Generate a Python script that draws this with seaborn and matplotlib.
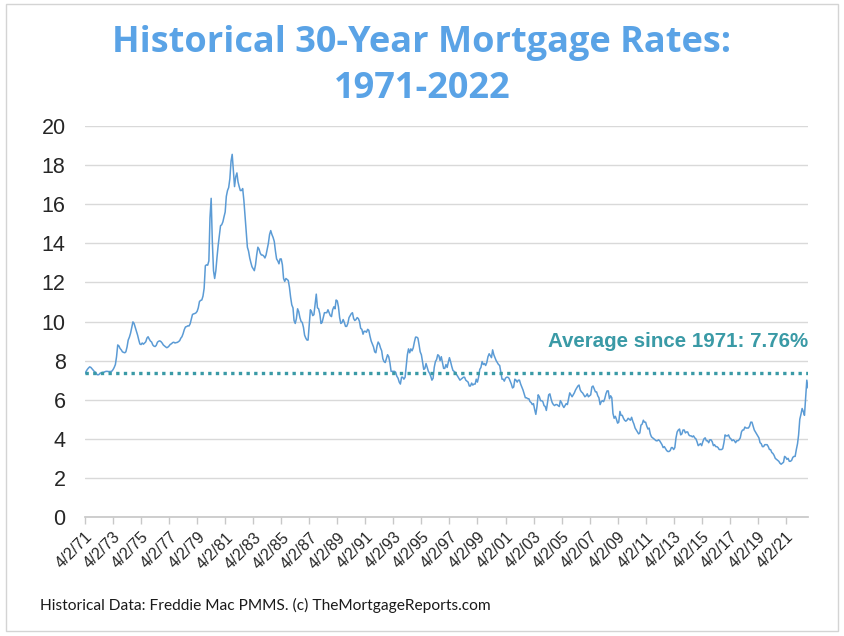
import matplotlib
matplotlib.use("Agg")
import matplotlib.pyplot as plt
from matplotlib.patches import Rectangle
import pandas as pd
import seaborn as sns

# monthly 30-year fixed rates (%), Apr 1971 - Nov 2022
rates = [
    7.33, 7.45, 7.55, 7.62, 7.68, 7.65, 7.58, 7.50, 7.44,                # 1971
    7.40, 7.30, 7.27, 7.29, 7.36, 7.37, 7.40, 7.40, 7.43, 7.45, 7.45, 7.44,  # 1972
    7.44, 7.44, 7.46, 7.54, 7.65, 7.80, 8.20, 8.80, 8.75, 8.62, 8.55, 8.45,  # 1973
    8.42, 8.40, 8.45, 8.70, 9.05, 9.20, 9.40, 9.70, 9.98, 9.90, 9.70, 9.50,  # 1974
    9.30, 9.05, 8.85, 8.82, 8.90, 8.84, 8.90, 8.96, 9.15, 9.22, 9.10, 9.00,  # 1975
    8.95, 8.80, 8.74, 8.72, 8.78, 8.94, 8.99, 9.01, 8.97, 8.90, 8.80, 8.75,  # 1976
    8.70, 8.66, 8.69, 8.75, 8.83, 8.86, 8.92, 8.94, 8.90, 8.92, 8.93, 8.97,  # 1977
    9.02, 9.15, 9.22, 9.38, 9.58, 9.72, 9.74, 9.78, 9.77, 9.88, 10.12, 10.36,  # 1978
    10.39, 10.41, 10.44, 10.52, 10.70, 11.02, 11.08, 11.10, 11.30, 11.70, 12.85, 12.90,  # 1979
    12.88, 13.10, 15.30, 16.30, 14.10, 12.60, 12.20, 12.60, 13.30, 13.90, 14.40, 14.90,  # 1980
    14.95, 15.10, 15.35, 15.60, 16.40, 16.70, 16.85, 17.30, 18.20, 18.55, 17.70, 16.90,  # 1981
    17.40, 17.60, 17.15, 16.90, 16.70, 16.70, 16.80, 16.20, 15.40, 14.60, 13.80, 13.60,  # 1982
    13.25, 13.00, 12.80, 12.70, 12.60, 12.90, 13.40, 13.80, 13.70, 13.50, 13.40, 13.40,  # 1983
    13.35, 13.25, 13.40, 13.70, 14.00, 14.45, 14.65, 14.45, 14.30, 14.10, 13.60, 13.20,  # 1984
    13.10, 12.95, 13.20, 13.20, 12.90, 12.20, 12.05, 12.20, 12.15, 12.10, 11.75, 11.25,  # 1985
    10.85, 10.70, 10.05, 9.90, 10.15, 10.65, 10.50, 10.20, 10.00, 9.95, 9.70, 9.30,  # 1986
    9.15, 9.05, 9.05, 9.85, 10.60, 10.50, 10.30, 10.35, 10.90, 11.40, 10.70, 10.65,  # 1987
    10.40, 9.90, 9.95, 10.20, 10.45, 10.45, 10.45, 10.60, 10.45, 10.30, 10.25, 10.60,  # 1988
    10.75, 10.65, 11.10, 11.05, 10.75, 10.20, 9.90, 9.95, 10.10, 9.95, 9.75, 9.75,  # 1989
    9.90, 10.20, 10.30, 10.40, 10.45, 10.15, 10.05, 10.10, 10.20, 10.15, 10.00, 9.65,  # 1990
    9.60, 9.35, 9.50, 9.50, 9.45, 9.60, 9.55, 9.25, 9.00, 8.85, 8.70, 8.45,  # 1991
    8.40, 8.75, 8.95, 8.85, 8.65, 8.50, 8.10, 7.95, 7.90, 8.10, 8.30, 8.20,  # 1992
    7.90, 7.45, 7.45, 7.45, 7.45, 7.40, 7.20, 7.10, 6.90, 6.80, 7.15, 7.15,  # 1993
    7.05, 7.15, 7.70, 8.30, 8.60, 8.40, 8.60, 8.50, 8.65, 8.95, 9.20, 9.20,  # 1994
    9.15, 8.80, 8.45, 8.30, 7.95, 7.55, 7.60, 7.85, 7.65, 7.45, 7.35, 7.20,  # 1995
    7.00, 7.10, 7.65, 7.95, 8.05, 8.30, 8.25, 8.00, 8.20, 7.90, 7.60, 7.60,  # 1996
    7.80, 7.65, 7.90, 8.15, 7.95, 7.70, 7.50, 7.45, 7.40, 7.30, 7.20, 7.10,  # 1997
    7.00, 7.05, 7.10, 7.15, 7.15, 7.00, 6.95, 6.90, 6.70, 6.70, 6.85, 6.75,  # 1998
    6.80, 6.80, 7.05, 6.90, 7.15, 7.55, 7.65, 7.95, 7.80, 7.85, 7.75, 7.90,  # 1999
    8.20, 8.35, 8.25, 8.15, 8.55, 8.30, 8.15, 8.00, 7.90, 7.80, 7.75, 7.40,  # 2000
    7.05, 7.05, 6.95, 7.10, 7.15, 7.15, 7.10, 6.95, 6.80, 6.60, 6.65, 7.05,  # 2001
    7.00, 6.90, 7.00, 7.00, 6.80, 6.65, 6.50, 6.30, 6.10, 6.10, 6.05, 6.05,  # 2002
    5.90, 5.85, 5.75, 5.80, 5.50, 5.25, 5.65, 6.25, 6.15, 5.95, 5.95, 5.90,  # 2003
    5.70, 5.65, 5.45, 5.85, 6.25, 6.30, 6.05, 5.85, 5.75, 5.70, 5.75, 5.75,  # 2004
    5.70, 5.65, 5.95, 5.85, 5.70, 5.60, 5.70, 5.80, 5.75, 6.05, 6.35, 6.25,  # 2005
    6.15, 6.25, 6.35, 6.50, 6.60, 6.70, 6.75, 6.50, 6.40, 6.35, 6.25, 6.15,  # 2006
    6.20, 6.30, 6.15, 6.20, 6.25, 6.65, 6.70, 6.55, 6.40, 6.40, 6.20, 6.10,  # 2007
    5.75, 5.90, 5.95, 5.90, 6.05, 6.30, 6.45, 6.45, 6.05, 6.20, 6.10, 5.30,  # 2008
    5.05, 5.15, 5.00, 4.80, 4.85, 5.40, 5.20, 5.20, 5.05, 4.95, 4.90, 4.95,  # 2009
    5.05, 5.00, 4.95, 5.10, 4.90, 4.75, 4.55, 4.45, 4.35, 4.25, 4.30, 4.70,  # 2010
    4.75, 4.95, 4.85, 4.85, 4.65, 4.50, 4.55, 4.25, 4.10, 4.05, 4.00, 3.95,  # 2011
    3.90, 3.90, 3.95, 3.90, 3.80, 3.70, 3.55, 3.60, 3.50, 3.40, 3.35, 3.35,  # 2012
    3.40, 3.55, 3.55, 3.45, 3.55, 4.05, 4.35, 4.45, 4.50, 4.20, 4.25, 4.45,  # 2013
    4.45, 4.30, 4.35, 4.35, 4.20, 4.15, 4.15, 4.10, 4.15, 4.05, 4.00, 3.85,  # 2014
    3.65, 3.70, 3.75, 3.65, 3.85, 4.00, 4.05, 3.90, 3.90, 3.80, 3.95, 3.95,  # 2015
    3.85, 3.65, 3.70, 3.60, 3.60, 3.55, 3.45, 3.45, 3.45, 3.50, 3.80, 4.20,  # 2016
    4.15, 4.15, 4.20, 4.05, 4.00, 3.90, 3.95, 3.90, 3.80, 3.90, 3.90, 3.95,  # 2017
    4.05, 4.35, 4.45, 4.45, 4.60, 4.55, 4.55, 4.55, 4.65, 4.85, 4.85, 4.65,  # 2018
    4.45, 4.35, 4.25, 4.15, 4.05, 3.80, 3.75, 3.60, 3.60, 3.70, 3.70, 3.70,  # 2019
    3.60, 3.45, 3.45, 3.30, 3.25, 3.15, 3.00, 2.95, 2.90, 2.85, 2.75, 2.70,  # 2020
    2.75, 2.80, 3.10, 3.05, 2.95, 3.00, 2.85, 2.85, 2.90, 3.05, 3.10, 3.10,  # 2021
    3.45, 3.75, 4.20, 5.00, 5.25, 5.55, 5.40, 5.20, 6.10, 7.00, 6.60,        # 2022
]
avg_rate = 7.37
avg_text = "Average since 1971: 7.76%"
tick_years = list(range(1971, 2022, 2))
title = "Historical 30-Year Mortgage Rates:\n1971-2022"
footer = "Historical Data: Freddie Mac PMMS. (c) TheMortgageReports.com"

dates = pd.date_range("1971-04-01", periods=len(rates), freq="MS")
df = pd.DataFrame({"date": dates, "rate": rates})

sns.set_theme(style="white")
plt.rcParams["font.family"] = ["Liberation Sans", "DejaVu Sans"]

W, H = 844, 636
fig = plt.figure(figsize=(W / 100, H / 100), dpi=100)
ax = fig.add_axes([85 / W, 1 - 517 / H, (808 - 85) / W, (517 - 126) / H])

sns.lineplot(data=df, x="date", y="rate", ax=ax, color="#5b9bd5", linewidth=1.1)
ax.axhline(avg_rate, color="#3a9aa6", linewidth=2.4, linestyle=(0, (1, 1.3)))

ax.set_xlim(df["date"].min(), df["date"].max())
ax.set_ylim(0, 20)
ax.set_yticks(range(0, 21, 2))
ax.grid(axis="y", color="#d9d9d9", linewidth=1)
ax.set_axisbelow(True)
for s in ["top", "right", "left"]:
    ax.spines[s].set_visible(False)
ax.spines["bottom"].set_color("#c8c8c8")

ticks = [pd.Timestamp(f"{y}-04-02") for y in tick_years]
ax.set_xticks(ticks)
ax.set_xticklabels([f"4/2/{y % 100:02d}" for y in tick_years], rotation=45,
                   ha="right", va="top", rotation_mode="anchor", fontsize=11.5)
ax.tick_params(axis="x", length=5, width=1, color="#c8c8c8", pad=4, bottom=True)
ax.tick_params(axis="y", length=0, labelsize=15.5, pad=14)
ax.set_xlabel("")
ax.set_ylabel("")

ax.text(1.0, (avg_rate + 1.62) / 20, avg_text, transform=ax.transAxes,
        ha="right", va="center", fontsize=14.8, fontweight="bold", color="#3a9aa6")

fig.text(0.5, 1 - 66 / H, title, ha="center", va="center", fontsize=26,
         fontweight="bold", color="#5aa3e6", family=["Open Sans", "DejaVu Sans"],
         linespacing=1.4)
fig.text(40 / W, 1 - 605 / H, footer, ha="left", va="center", fontsize=11.2,
         color="#1a1a1a", family=["Lato", "DejaVu Sans"])

fig.patches.append(Rectangle((6 / W, 1 - 631 / H), (838 - 6) / W, (631 - 4) / H,
                             transform=fig.transFigure, fill=False,
                             edgecolor="#d4d4d4", linewidth=1))

fig.savefig("out.png", dpi=100)
